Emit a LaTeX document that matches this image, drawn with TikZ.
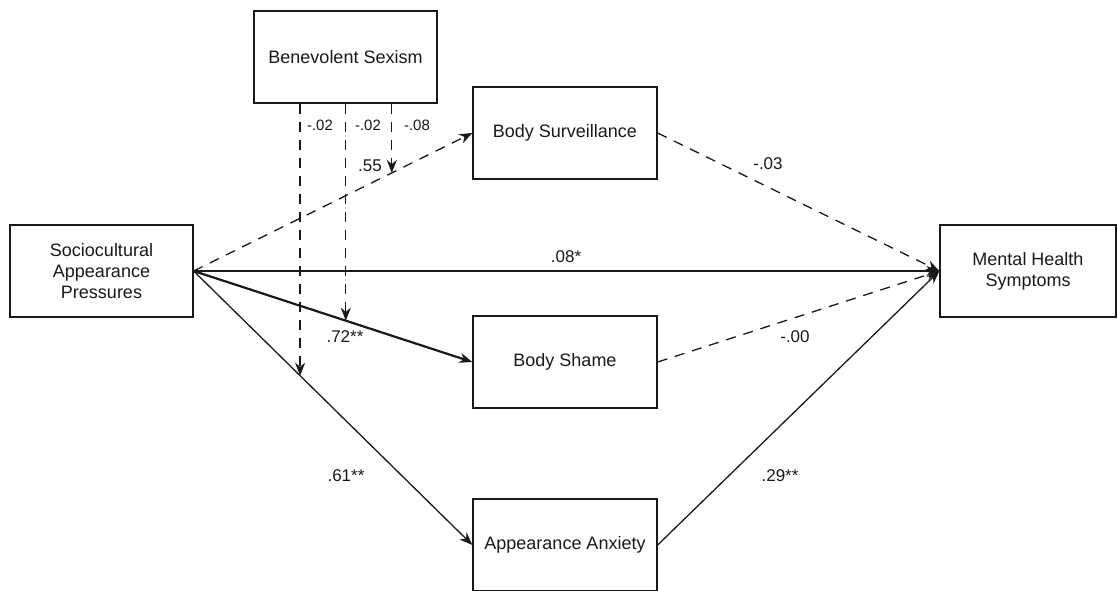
\documentclass[tikz,border=0pt]{standalone}
\usepackage{fontspec}
\setmainfont{Liberation Sans}
\usetikzlibrary{arrows.meta,calc}
\begin{document}
\begin{tikzpicture}[x=1pt,y=-1pt,
  box/.style={draw=black!90,line width=1.3pt,minimum height=92pt,inner sep=0pt,align=center,font=\fontsize{18}{21}\selectfont,text=black!90},
  conn/.style={line width=1.3pt,draw=black!90,-{Stealth[length=13pt,width=10pt]}},
  dsh/.style={conn,dash pattern=on 10pt off 8pt},
  thick conn/.style={conn,line width=2.2pt},
  lab/.style={font=\fontsize{17}{20}\selectfont,text=black!90,inner sep=0pt},
  slab/.style={font=\fontsize{15}{18}\selectfont,text=black!90,inner sep=0pt}]
\useasboundingbox (0,0) rectangle (1117,590);
\node[box,minimum width=183pt] (bs) at (345.5,57) {Benevolent Sexism};
\node[box,minimum width=184pt] (bsv) at (565,133) {Body Surveillance};
\node[box,minimum width=183pt] (sap) at (101.5,271) {Sociocultural\\Appearance\\Pressures};
\node[box,minimum width=184pt] (bsh) at (565,362) {Body Shame};
\node[box,minimum width=184pt] (aa) at (565,545) {Appearance Anxiety};
\node[box,minimum width=176pt] (mh) at (1028,271) {Mental Health\\Symptoms};
% main paths
\draw[dsh] (sap.east) -- (bsv.west);
\draw[conn] (sap.east) -- (mh.west);
\draw[thick conn] (sap.east) -- (bsh.west);
\draw[conn] (sap.east) -- (aa.west);
\draw[dsh] (bsv.east) -- (mh.west);
\draw[dsh] (bsh.east) -- (mh.west);
\draw[conn] (aa.east) -- (mh.west);
% moderation
\coordinate (m1) at ($(sap.east)!0.382!(aa.west)$);
\coordinate (m2) at ($(sap.east)!0.546!(bsh.west)$);
\coordinate (m3) at ($(sap.east)!0.711!(bsv.west)$);
\draw[dsh] (bs.south -| m1) -- (m1);
\draw[dsh] (bs.south -| m2) -- (m2);
\draw[dsh] (bs.south -| m3) -- (m3);
% labels
\node[slab] (l1) at (320,125) {-.02};
\node[slab] (l2) at (368,125) {-.02};
\node[slab] (l3) at (417,125) {-.08};
\node[lab] (l4) at (370,166) {.55};
\node[lab] (l5) at (566,257) {.08*};
\node[lab] (l6) at (768,164) {-.03};
\node[lab] (l7) at (795,337) {-.00};
\node[lab] (l8) at (345,337) {.72**};
\node[lab] (l9) at (346,476) {.61**};
\node[lab] (l10) at (780,476) {.29**};
\end{tikzpicture}
\end{document}
